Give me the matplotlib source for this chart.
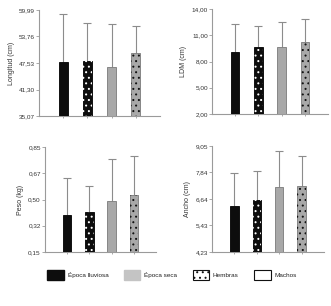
import numpy as np
import matplotlib.pyplot as plt
from matplotlib.patches import Patch

groups = ['Época lluviosa Hembras', 'Época lluviosa Machos', 'Época seca Hembras', 'Época seca Machos']

longitud = [47.8, 47.9, 46.5, 49.9]
longitud_err = [11.2, 9.1, 10.1, 6.4]
longitud_ticks = [35.07, 41.30, 47.53, 53.76, 59.99]
ldm = [9.1, 9.7, 9.7, 10.2]
ldm_err = [3.2, 2.4, 2.8, 2.7]
ldm_ticks = [2.00, 5.00, 8.00, 11.00, 14.00]
peso = [0.40, 0.415, 0.49, 0.53]
peso_err = [0.245, 0.177, 0.278, 0.258]
peso_ticks = [0.15, 0.32, 0.50, 0.67, 0.85]
ancho = [6.31, 6.58, 7.17, 7.22]
ancho_err = [1.51, 1.32, 1.65, 1.36]
ancho_ticks = [4.23, 5.43, 6.64, 7.84, 9.05]

panels = [
    ('Longitud (cm)', longitud, longitud_err, longitud_ticks),
    ('LDM (cm)', ldm, ldm_err, ldm_ticks),
    ('Peso (kg)', peso, peso_err, peso_ticks),
    ('Ancho (cm)', ancho, ancho_err, ancho_ticks),
]

# axes boxes in pixels: left, right, top, bottom
boxes = [(39, 160, 10, 116), (212, 328, 9, 114), (45, 156, 147, 252), (212, 324, 146, 252)]

W, H = 331, 306
fig = plt.figure(figsize=(W / 100, H / 100), dpi=100)
plt.rcParams['font.family'] = ['Liberation Sans', 'DejaVu Sans']
plt.rcParams['hatch.linewidth'] = 0.7

fill = ['#0d0d0d', '#0d0d0d', '#a8a8a8', '#a8a8a8']
edge = ['#000000', '#000000', '#7a7a7a', '#7a7a7a']
dots = [None, 'white', None, '#111111']
axis_col = '#9a9a9a'
fs = 4.6

for (label, vals, errs, ticks), (l, r, t, b) in zip(panels, boxes):
    lo, hi = ticks[0], ticks[-1]
    ax = fig.add_axes([l / W, 1 - b / H, (r - l) / W, (b - t) / H])
    x = np.arange(len(vals))
    ax.bar(x, np.array(vals) - lo, bottom=lo, width=0.37, color=fill,
           edgecolor=edge, linewidth=0.6, zorder=3)
    for xi, v, d in zip(x, vals, dots):
        if d:
            ax.bar(xi, v - lo, bottom=lo, width=0.37, fill=False, hatch='...',
                   edgecolor=d, linewidth=0, zorder=4)
    _, caps, _ = ax.errorbar(x, vals, yerr=[np.zeros(len(errs)), errs], fmt='none',
                             ecolor='#8c8c8c', elinewidth=0.8, capsize=2.6,
                             capthick=0.8, zorder=2)
    caps[0].set_visible(False)
    ax.set_xlim(-1, 4)
    ax.set_ylim(lo, hi)
    ax.set_yticks(np.linspace(lo, hi, len(ticks)))
    ax.set_yticklabels([f'{v:.2f}'.replace('.', ',') for v in ticks],
                       fontsize=fs, color='#333333')
    ax.set_xticks(x)
    ax.set_xticklabels([])
    ax.tick_params(axis='y', length=2, width=0.6, color=axis_col, pad=1)
    ax.tick_params(axis='x', length=1.5, width=0.6, color=axis_col, direction='out')
    ax.set_ylabel(label, fontsize=fs + 0.4, color='#333333', labelpad=3)
    for s in ['top', 'right']:
        ax.spines[s].set_visible(False)
    for s in ['left', 'bottom']:
        ax.spines[s].set_color(axis_col)
        ax.spines[s].set_linewidth(0.8)
    ax.patch.set_alpha(0)

handles = [
    Patch(facecolor='#0d0d0d', edgecolor='#0d0d0d', label='Época lluviosa'),
    Patch(facecolor='#c4c4c4', edgecolor='#c4c4c4', label='Época seca'),
    Patch(facecolor='white', edgecolor='#111111', hatch='...', linewidth=0.8, label='Hembras'),
    Patch(facecolor='white', edgecolor='#111111', linewidth=0.8, label='Machos'),
]
fig.legend(handles=handles, loc='center', bbox_to_anchor=(0.52, 1 - 275 / H), ncol=4,
           frameon=False, fontsize=fs, handlelength=2.6, handleheight=2.0,
           handletextpad=0.6, columnspacing=2.4, labelcolor='#222222')

fig.savefig('out.png', dpi=100)
